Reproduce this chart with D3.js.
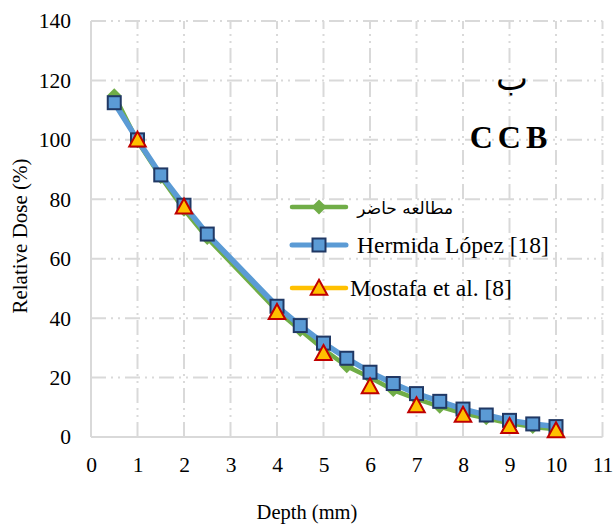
<!DOCTYPE html>
<html><head><meta charset="utf-8">
<script src="https://cdn.jsdelivr.net/npm/d3@7"></script>
<style>body{margin:0;background:#fff}svg{display:block}</style>
</head><body>
<svg id="c" width="614" height="526"></svg>
<script>
const xTicks = [0,1,2,3,4,5,6,7,8,9,10,11];
const yTicks = [0,20,40,60,80,100,120,140];
const depthMain = [0.5,1,1.5,2,2.5,4,4.5,5,5.5,6,6.5,7,7.5,8,8.5,9,9.5,10];
const presentStudy = [115,99.5,87.5,76.5,67,42.5,36,29.5,23.8,20,15.8,12.8,10.2,8,6.3,4.6,3.4,2.6];
const hermida = [112.5,100,88.2,78,68.3,44,37.5,31.6,26.5,21.8,18,14.6,12,9.4,7.4,5.6,4.4,3.5];
const depthMostafa = [1,2,4,5,6,7,8,9,10];
const mostafa = [100,77.5,42,28.2,17,10.6,7.4,3.6,2.2];
const seriesNames = ["مطالعه حاضر","Hermida López [18]","Mostafa et al. [8]"];

const svg = d3.select("#c");
const L=91, R=602.5, T=21, B=437;
const x = d3.scaleLinear().domain([0,11]).range([L,R]);
const y = d3.scaleLinear().domain([0,140]).range([B,T]);
const serif = "Liberation Serif, Times New Roman, serif";
const arab = "DejaVu Sans, Noto Sans, sans-serif";
const grid = "#d9d9d9";
const dash = "15,5,2,5,2,5";

// gridlines
svg.append("g").selectAll("line").data(yTicks.filter(d=>d>0)).join("line")
  .attr("x1",L).attr("x2",R).attr("y1",d=>y(d)).attr("y2",d=>y(d))
  .attr("stroke",grid).attr("stroke-width",2).attr("stroke-dasharray",dash);
svg.append("g").selectAll("line").data(xTicks.filter(d=>d>0)).join("line")
  .attr("y1",B).attr("y2",T).attr("x1",d=>x(d)).attr("x2",d=>x(d))
  .attr("stroke",grid).attr("stroke-width",2).attr("stroke-dasharray",dash);

// axes
const xa = svg.append("g").attr("transform",`translate(0,${B})`)
  .call(d3.axisBottom(x).tickValues(xTicks).tickSize(0).tickPadding(20).tickFormat(d3.format("d")));
const ya = svg.append("g").attr("transform",`translate(${L},0)`)
  .call(d3.axisLeft(y).tickValues(yTicks).tickSize(0).tickPadding(20).tickFormat(d3.format("d")));
[xa,ya].forEach(a=>{
  a.attr("font-family",serif).attr("font-size",21.5);
  a.select(".domain").attr("stroke",grid).attr("stroke-width",2);
  a.selectAll("text").attr("fill","#000");
});
ya.select(".domain").attr("d",`M0,${T}V${B}`);
xa.select(".domain").attr("d",`M${L},0H${R}`);
xa.selectAll("text").attr("dy","0.71em");

// axis titles
svg.append("text").attr("x",307).attr("y",519).attr("text-anchor","middle")
  .attr("font-family",serif).attr("font-size",20.5).text("Depth (mm)");
svg.append("text").attr("transform","translate(27,236) rotate(-90)").attr("text-anchor","middle")
  .attr("font-family",serif).attr("font-size",21).text("Relative Dose (%)");

const line = d3.line().x(d=>x(d[0])).y(d=>y(d[1]));
const gData = depthMain.map((d,i)=>[d,presentStudy[i]]);
const hData = depthMain.map((d,i)=>[d,hermida[i]]);
const mData = depthMostafa.map((d,i)=>[d,mostafa[i]]);

const green="#70ad47", blue="#5b9bd5", yellow="#ffc000", navy="#203864", red="#c00000";
const dia = (cx,cy,h)=>`M${cx},${cy-h}L${cx+h},${cy}L${cx},${cy+h}L${cx-h},${cy}Z`;
const tri = (cx,cy,s)=>`M${cx},${cy-s*0.55}L${cx+s*0.55},${cy+s*0.45}L${cx-s*0.55},${cy+s*0.45}Z`;

// green series
svg.append("path").datum(gData).attr("d",line).attr("fill","none").attr("stroke",green).attr("stroke-width",4.5).attr("stroke-linejoin","round");
svg.append("g").selectAll("path").data(gData).join("path")
  .attr("d",d=>dia(x(d[0]),y(d[1]),7)).attr("fill",green);
// blue series
svg.append("path").datum(hData).attr("d",line).attr("fill","none").attr("stroke",blue).attr("stroke-width",5.5).attr("stroke-linejoin","round");
svg.append("g").selectAll("rect").data(hData).join("rect")
  .attr("x",d=>x(d[0])-6.5).attr("y",d=>y(d[1])-6.5).attr("width",13).attr("height",13)
  .attr("fill",blue).attr("stroke",navy).attr("stroke-width",2);
// mostafa markers
svg.append("g").selectAll("path").data(mData).join("path")
  .attr("d",d=>tri(x(d[0]),y(d[1]),15)).attr("fill",yellow).attr("stroke",red).attr("stroke-width",2);

// legend
const lg = svg.append("g");
const ly = [207,245,288];
lg.append("line").attr("x1",292).attr("x2",346).attr("y1",ly[0]).attr("y2",ly[0]).attr("stroke",green).attr("stroke-width",4.5).attr("stroke-linecap","round");
lg.append("path").attr("d",dia(319,ly[0],7.5)).attr("fill",green);
lg.append("line").attr("x1",292).attr("x2",346).attr("y1",ly[1]).attr("y2",ly[1]).attr("stroke",blue).attr("stroke-width",5).attr("stroke-linecap","round");
lg.append("rect").attr("x",312.5).attr("y",ly[1]-6.5).attr("width",13).attr("height",13).attr("fill",blue).attr("stroke",navy).attr("stroke-width",2);
lg.append("line").attr("x1",292).attr("x2",346).attr("y1",ly[2]).attr("y2",ly[2]).attr("stroke",yellow).attr("stroke-width",4.5).attr("stroke-linecap","round");
lg.append("path").attr("d",tri(319,ly[2],15)).attr("fill",yellow).attr("stroke",red).attr("stroke-width",2);
lg.append("text").attr("x",453).attr("y",ly[0]+7).attr("text-anchor","end")
  .attr("font-family",arab).attr("font-size",17).text(seriesNames[0]);
lg.append("text").attr("x",357).attr("y",ly[1]+8).attr("font-family",serif).attr("font-size",23.5).text(seriesNames[1]);
lg.append("text").attr("x",350).attr("y",ly[2]+8).attr("font-family",serif).attr("font-size",23.5).text(seriesNames[2]);

// annotations
svg.append("text").attr("x",512).attr("y",90).attr("text-anchor","middle")
  .attr("font-family",arab).attr("font-size",34).text("ب");
svg.append("text").attr("x",511).attr("y",148).attr("text-anchor","middle")
  .attr("font-family",serif).attr("font-weight","bold").attr("font-size",32).attr("letter-spacing",5).text("CCB");
</script>
</body></html>
